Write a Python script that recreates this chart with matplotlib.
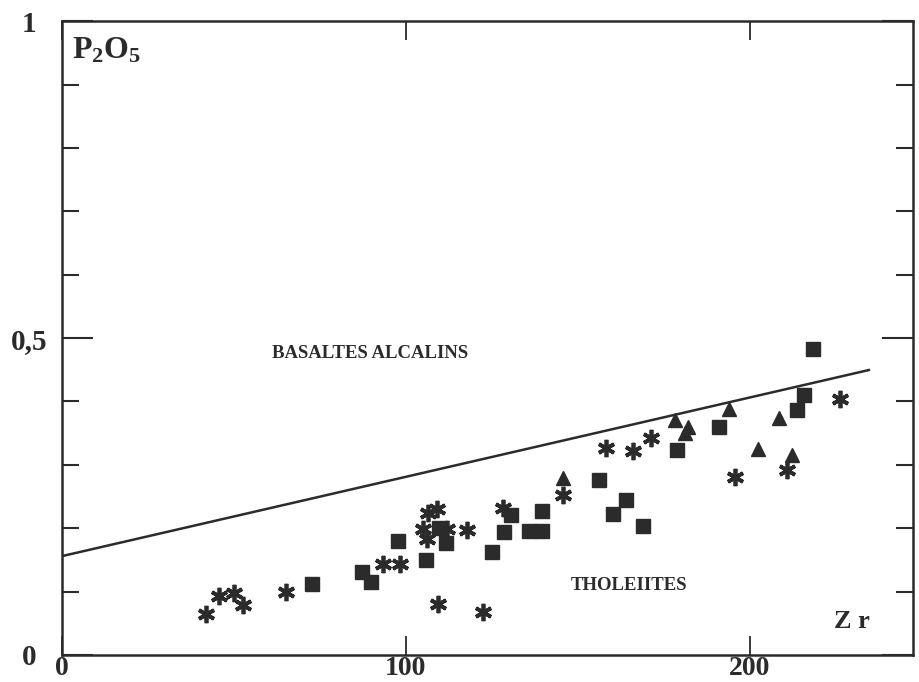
import matplotlib.pyplot as plt
from matplotlib.ticker import MultipleLocator

plt.rcParams['font.family'] = ['Liberation Serif', 'DejaVu Serif']
plt.rcParams['mathtext.fontset'] = 'custom'
plt.rcParams['mathtext.bf'] = 'Liberation Serif:bold'
plt.rcParams['mathtext.rm'] = 'Liberation Serif'

# asterisks
star_zr = [41.9, 45.6, 50.0, 52.6, 65.1, 93.3, 98.3, 106.4, 109.0, 104.9,
           106.1, 111.9, 117.7, 109.3, 122.4, 128.2, 145.6, 158.1, 166.0,
           171.2, 195.6, 210.8, 226.2]
star_p2o5 = [0.065, 0.093, 0.098, 0.079, 0.099, 0.144, 0.144, 0.224, 0.230,
             0.199, 0.183, 0.199, 0.197, 0.080, 0.068, 0.232, 0.252, 0.326,
             0.322, 0.342, 0.281, 0.292, 0.404]

# squares
square_zr = [72.7, 87.2, 89.8, 97.7, 105.8, 109.6, 111.6, 125.0, 130.5, 128.5,
             135.8, 139.5, 139.5, 156.1, 164.0, 160.2, 168.9, 178.8, 191.0,
             213.7, 215.7, 218.3]
square_p2o5 = [0.112, 0.131, 0.115, 0.180, 0.150, 0.200, 0.177, 0.162, 0.221,
               0.194, 0.196, 0.196, 0.227, 0.276, 0.244, 0.222, 0.203, 0.323,
               0.360, 0.386, 0.410, 0.483]

# triangles
tri_zr = [145.6, 178.2, 182.0, 181.1, 193.9, 202.3, 208.4, 212.2]
tri_p2o5 = [0.279, 0.370, 0.360, 0.350, 0.388, 0.325, 0.374, 0.315]

# alkaline / tholeiitic boundary
boundary_zr = [0, 235]
boundary_p2o5 = [0.156, 0.450]

ink = '#2b2b2b'

fig = plt.figure(figsize=(9.19, 6.82), dpi=100)
ax = fig.add_axes([0.0675, 0.0396, 0.926, 0.9294])

ax.plot(boundary_zr, boundary_p2o5, color=ink, lw=1.8, solid_capstyle='butt')
ax.plot(star_zr, star_p2o5, ls='none', marker=(6, 2, 0), ms=12.5, mew=2.7,
        color=ink)
ax.plot(square_zr, square_p2o5, ls='none', marker='s', ms=9.5, color=ink,
        mec=ink)
ax.plot(tri_zr, tri_p2o5, ls='none', marker='^', ms=10, color=ink, mec=ink)

ax.set_xlim(0, 247.5)
ax.set_ylim(0, 1)

for s in ax.spines.values():
    s.set_linewidth(1.8)
    s.set_color(ink)

ax.set_xticks([0, 100, 200])
ax.set_xticklabels(['0', '100', '200'])
ax.set_yticks([0, 0.5, 1])
ax.set_yticklabels(['0', '0,5', '1'])
ax.yaxis.set_minor_locator(MultipleLocator(0.1))
ax.tick_params(which='both', direction='in', top=True, right=True, color=ink)
ax.tick_params(axis='x', which='major', length=14, width=1.3, pad=0.5,
               labelsize=20)
ax.tick_params(axis='y', which='major', length=22, width=1.5, pad=24,
               labelsize=21)
ax.tick_params(axis='y', which='minor', length=12, width=1.5)
for lab in ax.get_xticklabels() + ax.get_yticklabels():
    lab.set_fontweight('bold')
    lab.set_color(ink)
for lab in ax.get_yticklabels():
    lab.set_horizontalalignment('center')

ax.text(3, 0.953, r'$\mathbf{P_2O_5}$', fontsize=23, color=ink,
        va='center', ha='left')
ax.text(229.7, 0.053, 'Z r', fontsize=19, fontweight='bold', color=ink,
        ha='center', va='center')
ax.text(89.5, 0.476, 'BASALTES ALCALINS', fontsize=13.5, fontweight='bold',
        color=ink, ha='center', va='center')
ax.text(165, 0.110, 'THOLEIITES', fontsize=13.5, fontweight='bold',
        color=ink, ha='center', va='center')

fig.savefig('out.png', dpi=100)
